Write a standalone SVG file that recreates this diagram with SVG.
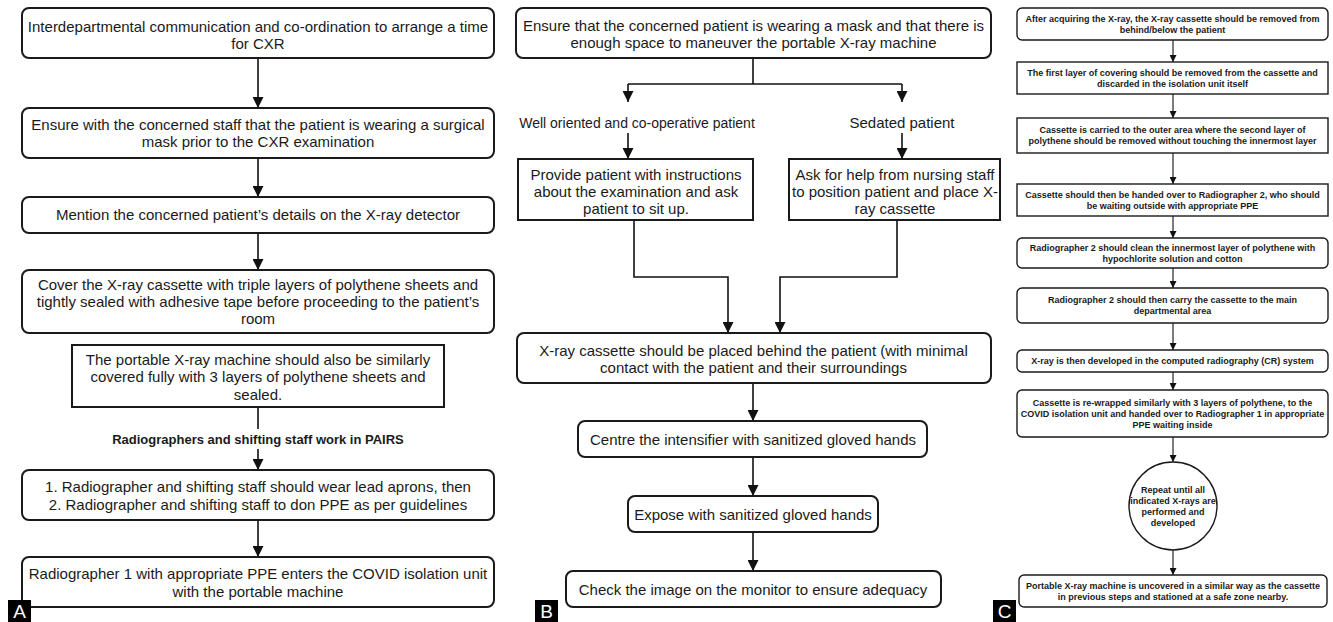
<svg xmlns="http://www.w3.org/2000/svg" width="1333" height="622" viewBox="0 0 1333 622">
<style>
.bx{fill:#fff;stroke:#1a1a1a;stroke-width:2}
.bc{fill:#fff;stroke:#1a1a1a;stroke-width:1.4}
.t{font-family:"Liberation Sans",Arial,sans-serif;font-size:15px;fill:#1a1a1a;text-anchor:middle}
.s{font-family:"Liberation Sans",Arial,sans-serif;font-size:9px;font-weight:bold;fill:#1a1a1a;text-anchor:middle}
.ln{fill:none;stroke:#111;stroke-width:1.6}
.lc{fill:none;stroke:#111;stroke-width:1.1}
.lb{fill:#000}
.lt{font-family:"Liberation Sans",Arial,sans-serif;font-size:19px;fill:#fff;text-anchor:middle}
</style>
<defs>
<marker id="ah" markerUnits="userSpaceOnUse" markerWidth="11" markerHeight="11" refX="11" refY="5.5" orient="auto"><path d="M0,0 L11,5.5 L0,11 z" fill="#111"/></marker>
<marker id="as" markerUnits="userSpaceOnUse" markerWidth="7" markerHeight="7" refX="7" refY="3.5" orient="auto"><path d="M0,0 L7,3.5 L0,7 z" fill="#111"/></marker>
</defs>
<rect width="1333" height="622" fill="#fff"/>

<g id="connectors">
<path class="ln" d="M258,58 V108" marker-end="url(#ah)"/>
<path class="ln" d="M258,158 V197" marker-end="url(#ah)"/>
<path class="ln" d="M258,233 V270" marker-end="url(#ah)"/>
<path class="ln" d="M258,407 V429"/>
<path class="ln" d="M258,449 V470" marker-end="url(#ah)"/>
<path class="ln" d="M258,520 V557" marker-end="url(#ah)"/>

<path class="ln" d="M753,58 V84 M628,84 H902"/>
<path class="ln" d="M628,84 V102" marker-end="url(#ah)"/>
<path class="ln" d="M902,84 V102" marker-end="url(#ah)"/>
<path class="ln" d="M628,133 V159" marker-end="url(#ah)"/>
<path class="ln" d="M902,133 V159" marker-end="url(#ah)"/>
<path class="ln" d="M634,220 V277 H728 V333" marker-end="url(#ah)"/>
<path class="ln" d="M897,220 V277 H780 V333" marker-end="url(#ah)"/>
<path class="ln" d="M753,383 V421" marker-end="url(#ah)"/>
<path class="ln" d="M753,457 V496" marker-end="url(#ah)"/>
<path class="ln" d="M753,532 V571" marker-end="url(#ah)"/>

<path class="lc" d="M1173,40 V62" marker-end="url(#as)"/>
<path class="lc" d="M1173,94 V118" marker-end="url(#as)"/>
<path class="lc" d="M1173,153 V184" marker-end="url(#as)"/>
<path class="lc" d="M1173,216 V238" marker-end="url(#as)"/>
<path class="lc" d="M1173,268 V288" marker-end="url(#as)"/>
<path class="lc" d="M1173,323 V350" marker-end="url(#as)"/>
<path class="lc" d="M1173,372 V390" marker-end="url(#as)"/>
<path class="lc" d="M1173,437 V462" marker-end="url(#as)"/>
<path class="lc" d="M1173,550 V575" marker-end="url(#as)"/>
</g>

<g id="a1"><rect class="bx" x="22" y="8" width="472" height="50" rx="7"/>
<text class="t" x="258" y="32">Interdepartmental communication and co-ordination to arrange a time</text>
<text class="t" x="258" y="49">for CXR</text></g>
<g id="a2"><rect class="bx" x="22" y="108" width="472" height="50" rx="7"/>
<text class="t" x="258" y="130">Ensure with the concerned staff that the patient is wearing a surgical</text>
<text class="t" x="258" y="147">mask prior to the CXR examination</text></g>
<g id="a3"><rect class="bx" x="22" y="197" width="472" height="36" rx="7"/>
<text class="t" x="258" y="220">Mention the concerned patient’s details on the X-ray detector</text></g>
<g id="a4"><rect class="bx" x="22" y="270" width="472" height="63" rx="7"/>
<text class="t" x="258" y="290">Cover the X-ray cassette with triple layers of polythene sheets and</text>
<text class="t" x="258" y="307">tightly sealed with adhesive tape before proceeding to the patient’s</text>
<text class="t" x="258" y="324">room</text></g>
<g id="a5"><rect class="bx" x="72" y="345" width="372" height="62"/>
<text class="t" x="258" y="365">The portable X-ray machine should also be similarly</text>
<text class="t" x="258" y="382">covered fully with 3 layers of polythene sheets and</text>
<text class="t" x="258" y="400">sealed.</text></g>
<g id="a-label"><text class="t" x="258" y="444" style="font-size:13px;font-weight:bold">Radiographers and shifting staff work in PAIRS</text></g>
<g id="a6"><rect class="bx" x="22" y="470" width="472" height="50" rx="7"/>
<text class="t" x="258" y="492">1. Radiographer and shifting staff should wear lead aprons, then</text>
<text class="t" x="258" y="510">2. Radiographer and shifting staff to don PPE as per guidelines</text></g>
<g id="a7"><rect class="bx" x="22" y="557" width="472" height="50" rx="7"/>
<text class="t" x="258" y="579">Radiographer 1 with appropriate PPE enters the COVID isolation unit</text>
<text class="t" x="258" y="597">with the portable machine</text></g>
<g id="panel-a"><rect class="lb" x="8" y="600" width="23" height="22"/><text class="lt" x="19.5" y="618">A</text></g>

<g id="b1"><rect class="bx" x="516" y="8" width="475" height="50" rx="7"/>
<text class="t" x="753.5" y="30.5">Ensure that the concerned patient is wearing a mask and that there is</text>
<text class="t" x="753.5" y="47.5">enough space to maneuver the portable X-ray machine</text></g>
<g id="b-l1"><text class="t" x="637" y="128" style="font-size:14px">Well oriented and co-operative patient</text></g>
<g id="b-l2"><text class="t" x="902" y="128">Sedated patient</text></g>
<g id="b2l"><rect class="bx" x="518" y="159" width="235" height="61"/>
<text class="t" x="636" y="179.5">Provide patient with instructions</text>
<text class="t" x="636" y="196.5">about the examination and ask</text>
<text class="t" x="636" y="213.5">patient to sit up.</text></g>
<g id="b2r"><rect class="bx" x="789" y="159" width="211" height="61"/>
<text class="t" x="895" y="179.5">Ask for help from nursing staff</text>
<text class="t" x="895" y="196.5">to position patient and place X-</text>
<text class="t" x="895" y="213.5">ray cassette</text></g>
<g id="b3"><rect class="bx" x="517" y="333" width="474" height="50" rx="7"/>
<text class="t" x="753.5" y="355.5">X-ray cassette should be placed behind the patient (with minimal</text>
<text class="t" x="753.5" y="372.5">contact with the patient and their surroundings</text></g>
<g id="b4"><rect class="bx" x="578" y="421" width="349" height="36" rx="7"/>
<text class="t" x="753" y="444.5">Centre the intensifier with sanitized gloved hands</text></g>
<g id="b5"><rect class="bx" x="628" y="496" width="250" height="36" rx="7"/>
<text class="t" x="753" y="520">Expose with sanitized gloved hands</text></g>
<g id="b6"><rect class="bx" x="566" y="571" width="375" height="36" rx="7"/>
<text class="t" x="753" y="595">Check the image on the monitor to ensure adequacy</text></g>
<g id="panel-b"><rect class="lb" x="535" y="600" width="23" height="22"/><text class="lt" x="546.5" y="618">B</text></g>

<g id="c1"><rect class="bc" x="1017" y="8" width="311" height="32" rx="5"/>
<text class="s" x="1172.5" y="21.8">After acquiring the X-ray, the X-ray cassette should be removed from</text>
<text class="s" x="1172.5" y="32.8">behind/below the patient</text></g>
<g id="c2"><rect class="bc" x="1017" y="62" width="311" height="32"/>
<text class="s" x="1172.5" y="75.8">The first layer of covering should be removed from the cassette and</text>
<text class="s" x="1172.5" y="86.8">discarded in the isolation unit itself</text></g>
<g id="c3"><rect class="bc" x="1017" y="118" width="311" height="35"/>
<text class="s" x="1172.5" y="133.3">Cassette is carried to the outer area where the second layer of</text>
<text class="s" x="1172.5" y="144.3">polythene should be removed without touching the innermost layer</text></g>
<g id="c4"><rect class="bc" x="1017" y="184" width="311" height="32"/>
<text class="s" x="1172.5" y="197.8">Cassette should then be handed over to Radiographer 2, who should</text>
<text class="s" x="1172.5" y="208.8">be waiting outside with appropriate PPE</text></g>
<g id="c5"><rect class="bc" x="1017" y="238" width="311" height="30" rx="5"/>
<text class="s" x="1172.5" y="250.8">Radiographer 2 should clean the innermost layer of polythene with</text>
<text class="s" x="1172.5" y="261.8">hypochlorite solution and cotton</text></g>
<g id="c6"><rect class="bc" x="1017" y="288" width="311" height="35" rx="5"/>
<text class="s" x="1172.5" y="303.3">Radiographer 2 should then carry the cassette to the main</text>
<text class="s" x="1172.5" y="314.3">departmental area</text></g>
<g id="c7"><rect class="bc" x="1017" y="350" width="311" height="22" rx="5"/>
<text class="s" x="1172.5" y="364.3">X-ray is then developed in the computed radiography (CR) system</text></g>
<g id="c8"><rect class="bc" x="1017" y="390" width="311" height="47" rx="5"/>
<text class="s" x="1172.5" y="405.8">Cassette is re-wrapped similarly with 3 layers of polythene, to the</text>
<text class="s" x="1172.5" y="416.8">COVID isolation unit and handed over to Radiographer 1 in appropriate</text>
<text class="s" x="1172.5" y="427.8">PPE waiting inside</text></g>
<g id="c-circle"><circle class="bc" cx="1173" cy="506" r="44"/>
<text class="s" x="1173" y="492.8">Repeat until all</text>
<text class="s" x="1173" y="503.8">indicated X-rays are</text>
<text class="s" x="1173" y="514.8">performed and</text>
<text class="s" x="1173" y="525.8">developed</text></g>
<g id="c9"><rect class="bc" x="1019" y="575" width="308" height="32" rx="5"/>
<text class="s" x="1173" y="588.8">Portable X-ray machine is uncovered in a similar way as the cassette</text>
<text class="s" x="1173" y="599.8">in previous steps and stationed at a safe zone nearby.</text></g>
<g id="panel-c"><rect class="lb" x="993" y="600" width="23" height="22"/><text class="lt" x="1004.5" y="618">C</text></g>
</svg>
